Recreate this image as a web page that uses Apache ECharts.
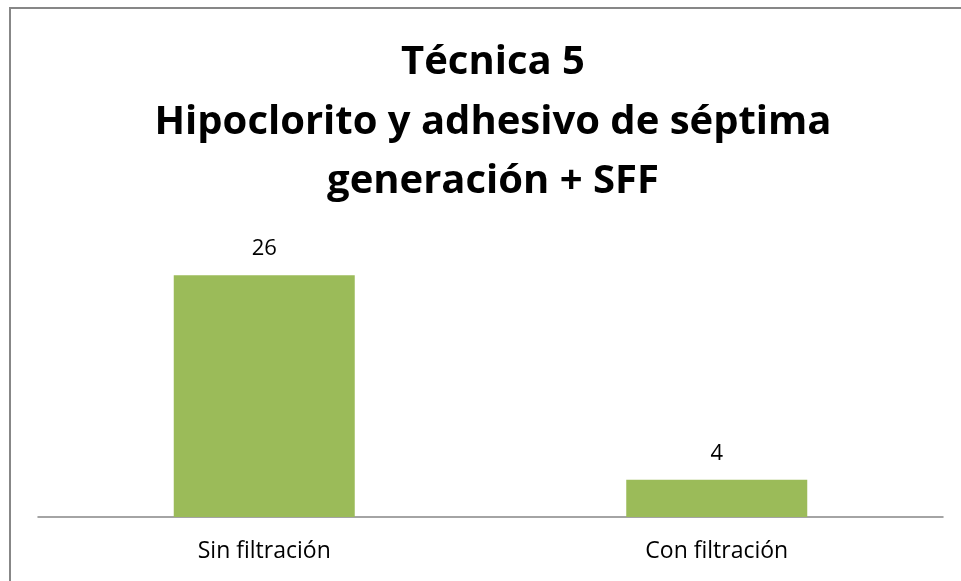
<!DOCTYPE html>
<html><head><meta charset="utf-8">
<script src="https://cdn.jsdelivr.net/npm/echarts@6/dist/echarts.min.js"></script>
<style>html,body{margin:0;padding:0;background:#fff}#c{width:961px;height:581px}</style>
</head><body><div id="c"></div>
<script>
const titleText = "Técnica 5\nHipoclorito y adhesivo de séptima\ngeneración + SFF";
const categories = ["Sin filtración", "Con filtración"];
const values = [26, 4];
const chart = echarts.init(document.getElementById('c'));
chart.setOption({
  animation: false,
  graphic: [{type:'rect', shape:{x:10,y:8,width:1200,height:1200}, style:{fill:'none', stroke:'#878787', lineWidth:2}, silent:true}],
  title: {text: titleText, left: 488, textAlign: 'center', top: 28,
    textStyle: {fontFamily: 'Open Sans', fontWeight: 'bold', fontSize: 40, lineHeight: 59.5, color: '#000'}},
  grid: {left: 38, right: 18, top: 238, bottom: 64, containLabel: false},
  xAxis: {type: 'category', data: categories,
    axisLine: {lineStyle: {color: '#868686', width: 1.5}}, axisTick: {show: false},
    axisLabel: {fontFamily: 'Open Sans', fontSize: 23, color: '#000', margin: 23}},
  yAxis: {type: 'value', min: 0, max: 30, show: false, splitLine: {show: false}},
  series: [{type: 'bar', data: values, barCategoryGap: '60%',
    itemStyle: {color: '#9BBB59'},
    label: {show: true, position: 'top', distance: 15, fontFamily: 'Open Sans', fontSize: 22, color: '#000'}}]
});
</script></body></html>
